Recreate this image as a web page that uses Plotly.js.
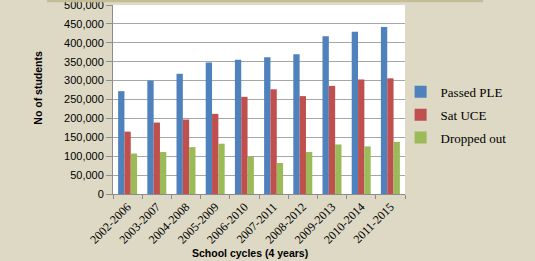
<!DOCTYPE html>
<html><head><meta charset="utf-8">
<script src="https://cdn.plot.ly/plotly-3.0.1.min.js"></script>
<style>html,body{margin:0;padding:0;background:#DDD9C4;}#chart{width:535px;height:261px;}</style>
</head><body><div id="chart"></div>
<script>
const cycles = ["2002-2006","2003-2007","2004-2008","2005-2009","2006-2010","2007-2011","2008-2012","2009-2013","2010-2014","2011-2015"];
const passedPLE = [272000,300000,318000,348000,355000,362000,370000,417000,429000,442000];
const satUCE = [165000,189000,197000,212000,257000,277000,259000,286000,303000,306000];
const droppedOut = [107000,111000,124000,133000,98000,82000,111000,131000,126000,138000];
const yTicks = [0,50000,100000,150000,200000,250000,300000,350000,400000,450000,500000];
const yTickText = ["0","50,000","100,000","150,000","200,000","250,000","300,000","350,000","400,000","450,000","500,000"];

const serif = "Liberation Serif";
const sans = "Liberation Sans";
const traces = [
  {type:"bar", name:"Passed PLE", x:cycles, y:passedPLE, marker:{color:"#4F81BD"}, legendgroup:"a"},
  {type:"bar", name:"Sat UCE", x:cycles, y:satUCE, marker:{color:"#C0504D"}, legendgroup:"b"},
  {type:"bar", name:"Dropped out", x:cycles, y:droppedOut, marker:{color:"#9BBB59"}, legendgroup:"c"}
];
const layout = {
  width:535, height:261,
  margin:{l:113, r:130, t:5, b:67},
  paper_bgcolor:"#DDD9C4", plot_bgcolor:"#FFFFFF",
  font:{family:serif, color:"#000"},
  barmode:"group", bargap:0.35, bargroupgap:0,
  showlegend:true,
  legend:{x:0.985, y:0.62, xanchor:"left", yanchor:"top", bgcolor:"rgba(0,0,0,0)", font:{family:serif, size:13, color:"#000"}, tracegroupgap:3, itemwidth:30},
  xaxis:{type:"category", tickangle:-45, tickfont:{family:serif, size:12, color:"#000"},
    showline:true, linecolor:"#8C8C8C", ticks:"outside", tickson:"boundaries", ticklen:4, tickcolor:"#8C8C8C", showgrid:false, zeroline:false},
  yaxis:{range:[0,500000], tickvals:yTicks, ticktext:yTickText, ticklabeloverflow:"allow", tickfont:{family:sans, size:11, color:"#000"},
    showline:true, linecolor:"#8C8C8C", ticks:"outside", ticklen:6, tickcolor:"#8C8C8C", showgrid:true, gridcolor:"#A6A6A6", gridwidth:1, zeroline:false},
  shapes:[{type:"line", xref:"paper", yref:"paper", x0:-0.226, x1:1.267, y0:1.022, y1:1.022, line:{color:"#C4BD97", width:3}}],
  annotations:[
    {text:"<b>No of students</b>", xref:"paper", yref:"paper", x:-0.255, y:0.56, textangle:-90, showarrow:false, font:{family:sans, size:10.5, color:"#000"}, xanchor:"center", yanchor:"middle"},
    {text:"<b>School cycles (4 years)</b>", xref:"paper", yref:"paper", x:0.47, y:-0.352, showarrow:false, font:{family:sans, size:10.5, color:"#000"}, xanchor:"center", yanchor:"bottom"}
  ]
};
Plotly.newPlot("chart", traces, layout, {displayModeBar:false, staticPlot:true});
</script></body></html>
